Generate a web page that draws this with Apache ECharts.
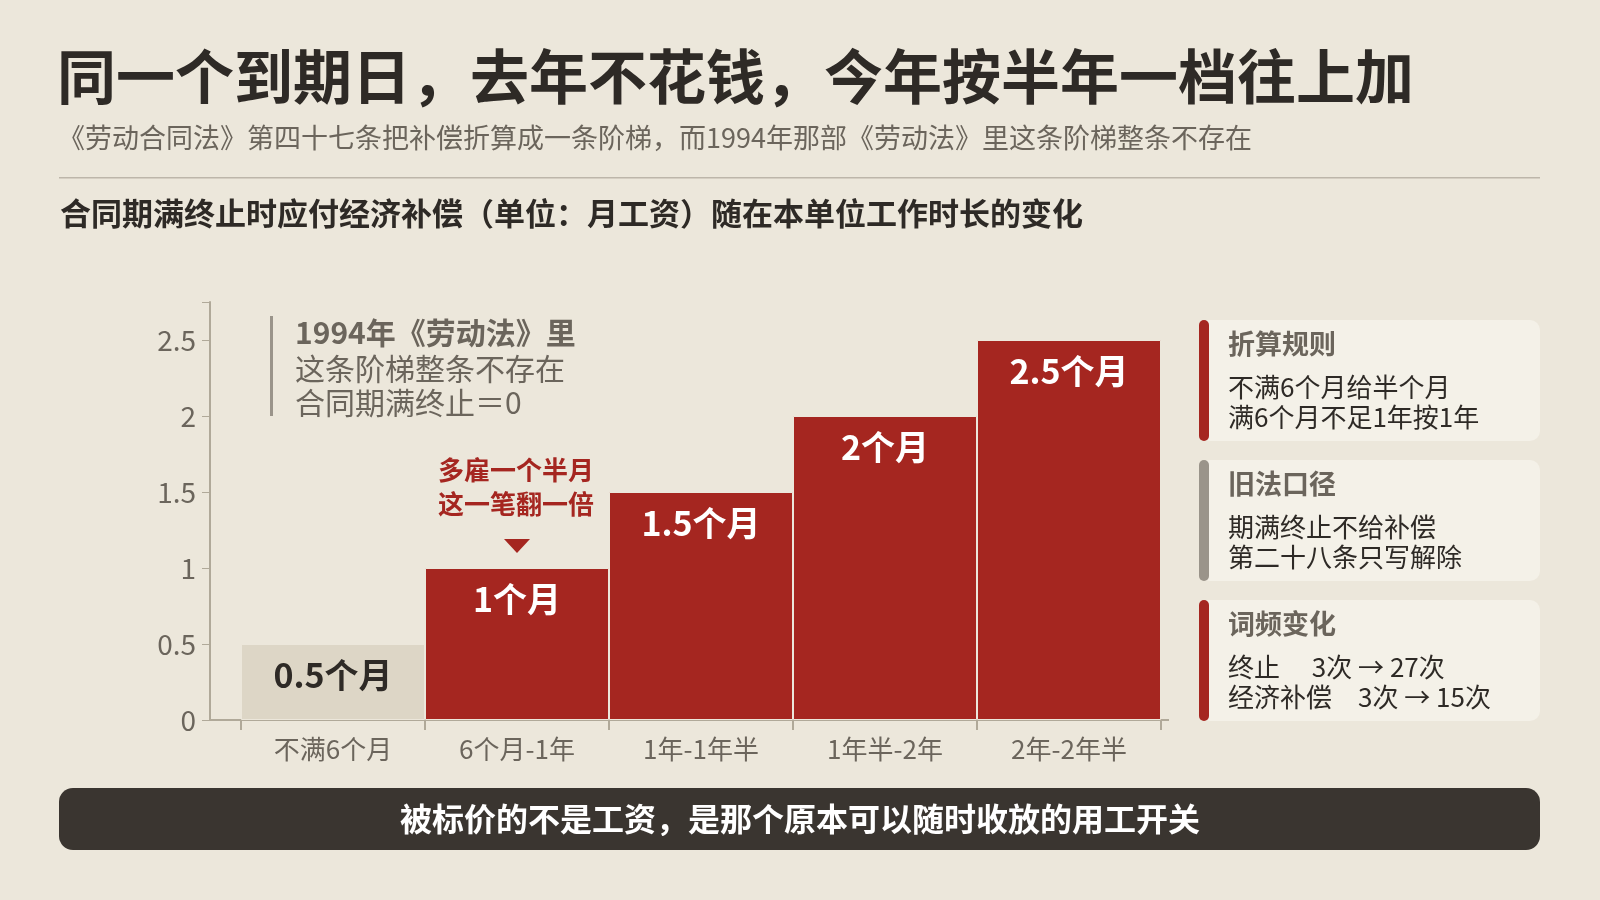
<!DOCTYPE html>
<html><head><meta charset="utf-8">
<script src="https://cdn.jsdelivr.net/npm/echarts@6/dist/echarts.min.js"></script>
<style>html,body{margin:0;background:#ece7db}#c{width:1600px;height:900px}</style>
</head><body><div id="c"></div>
<script>
const categories = ['不满6个月', '6个月-1年', '1年-1年半', '1年半-2年', '2年-2年半']
const values = [0.5, 1, 1.5, 2, 2.5]
const barLabels = ['0.5个月', '1个月', '1.5个月', '2个月', '2.5个月']
const yTicks = [0, 0.5, 1, 1.5, 2, 2.5]

const F = '"Noto Sans CJK SC", "Noto Sans", sans-serif'
const RED = '#a52620', GRAY = '#6b655c', DARK = '#3a3530'

const panels = [
  { y: 320, bar: RED, title: '折算规则', lines: ['不满6个月给半个月', '满6个月不足1年按1年'] },
  { y: 460, bar: '#9a948a', title: '旧法口径', lines: ['期满终止不给补偿', '第二十八条只写解除'] },
  { y: 600, bar: RED, title: '词频变化', lines: ['终止　 3次 → 27次', '经济补偿　3次 → 15次'] },
]

const graphic = [
  { type: 'text', left: 57, top: 47, style: { text: '同一个到期日，去年不花钱，今年按半年一档往上加', font: 'bold 59px ' + F, fill: '#2e2a26' } },
  { type: 'text', left: 58, top: 124, style: { text: '《劳动合同法》第四十七条把补偿折算成一条阶梯，而1994年那部《劳动法》里这条阶梯整条不存在', font: '27px ' + F, fill: GRAY } },
  { type: 'rect', shape: { x: 59, y: 177, width: 1481, height: 1.5 }, style: { fill: '#bdb6aa' } },
  { type: 'text', left: 60, top: 198, style: { text: '合同期满终止时应付经济补偿（单位：月工资）随在本单位工作时长的变化', font: 'bold 31px ' + F, fill: '#2e2a26' } },
  // baseline
  { type: 'rect', shape: { x: 210, y: 719, width: 959, height: 2 }, style: { fill: '#b0a999' } },
  // note
  { type: 'rect', shape: { x: 270, y: 316, width: 3, height: 100 }, style: { fill: '#9a948a' } },
  { type: 'text', left: 295, top: 318, style: { text: '1994年《劳动法》里', font: 'bold 30px ' + F, fill: GRAY } },
  { type: 'text', left: 295, top: 352, style: { text: '这条阶梯整条不存在\n合同期满终止＝0', font: '30px ' + F, fill: GRAY, lineHeight: 34 } },
  { type: 'text', style: { x: 516, y: 487, text: '多雇一个半月\n这一笔翻一倍', font: 'bold 26px ' + F, fill: RED, lineHeight: 34, align: 'center', verticalAlign: 'middle' } },
  // bottom banner
  { type: 'rect', shape: { x: 59, y: 788, width: 1481, height: 62, r: 14 }, style: { fill: DARK } },
  { type: 'text', style: { x: 800, y: 819, text: '被标价的不是工资，是那个原本可以随时收放的用工开关', font: 'bold 32px ' + F, fill: '#fff', align: 'center', verticalAlign: 'middle' } },
]
panels.forEach(p => {
  graphic.push({ type: 'rect', shape: { x: 1200, y: p.y, width: 340, height: 121, r: 10 }, style: { fill: '#f4f1e8' } })
  graphic.push({ type: 'rect', shape: { x: 1199, y: p.y, width: 10, height: 121, r: 5 }, style: { fill: p.bar } })
  graphic.push({ type: 'text', left: 1228, top: p.y + 10, style: { text: p.title, font: 'bold 27px ' + F, fill: GRAY } })
  graphic.push({ type: 'text', left: 1228, top: p.y + 52, style: { text: p.lines.join('\n'), font: '26px ' + F, fill: '#2e2a26', lineHeight: 30 } })
})

const chart = echarts.init(document.getElementById('c'))
chart.setOption({
  backgroundColor: '#ece7db',
  animation: false,
  graphic,
  grid: { left: 241, top: 302, width: 920, height: 418 },
  xAxis: {
    type: 'category', data: categories,
    axisLine: { show: false },
    axisTick: { show: true, length: 10, lineStyle: { color: '#b0a999', width: 2 } },
    axisLabel: { color: GRAY, fontSize: 26, fontFamily: F, margin: 16 },
  },
  yAxis: {
    type: 'value', min: 0, max: 2.75, interval: 0.5, offset: 31,
    splitLine: { show: false },
    axisLine: { show: true, lineStyle: { color: '#b0a999', width: 2 } },
    axisTick: { show: true, length: 8, lineStyle: { color: '#b0a999' } },
    axisLabel: { color: GRAY, fontSize: 28, fontFamily: F, margin: 14,
      formatter: v => yTicks.includes(v) ? String(v) : '' },
  },
  series: [{
    type: 'bar', barCategoryGap: '0%',
    data: values.map((v, i) => ({
      value: v,
      itemStyle: { color: i === 0 ? '#ddd6c6' : RED, borderColor: '#ece7db', borderWidth: 1 },
      label: { color: i === 0 ? '#2e2a26' : '#fff' },
    })),
    label: {
      show: true, position: 'insideTop', distance: 14,
      formatter: p => barLabels[p.dataIndex],
      fontSize: 34, fontWeight: 'bold', fontFamily: F,
    },
    markPoint: {
      symbol: 'triangle', symbolSize: [26, 14], symbolRotate: 180, symbolOffset: [0, -22],
      itemStyle: { color: RED }, label: { show: false },
      data: [{ coord: [categories[1], values[1]] }],
    },
  }],
})
</script></body></html>
